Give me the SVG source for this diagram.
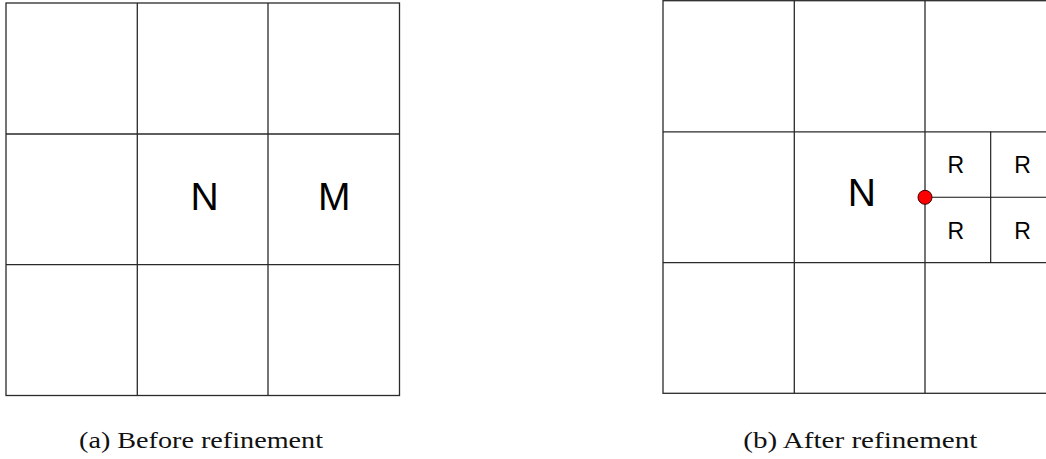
<svg xmlns="http://www.w3.org/2000/svg" width="1046" height="459" viewBox="0 0 1046 459">
  <style>
    .grid { fill: none; stroke: #2a2a2a; stroke-width: 1.3; }
    .sub { fill: none; stroke: #111; stroke-width: 1.1; }
    .lbl { font-family: "Liberation Sans", Arial, sans-serif; fill: #000; text-anchor: middle; }
    .big { font-size: 39px; }
    .small { font-size: 23px; }
    .cap { font-family: "Liberation Serif", "Times New Roman", serif; font-size: 24px; fill: #111; }
  </style>

  <!-- (a) 3x3 grid before refinement -->
  <g id="grid-a" class="grid">
    <rect x="6" y="3" width="393.5" height="392.5"/>
    <line x1="137.3" y1="3" x2="137.3" y2="395.5"/>
    <line x1="268" y1="3" x2="268" y2="395.5"/>
    <line x1="6" y1="134" x2="399.5" y2="134"/>
    <line x1="6" y1="264.7" x2="399.5" y2="264.7"/>
  </g>
  <g id="node-N-a"><text class="lbl big" x="204.5" y="209.5">N</text></g>
  <g id="node-M-a"><text class="lbl big" x="334.3" y="209.5">M</text></g>
  <g id="caption-a"><text class="cap" x="79" y="448" textLength="244" lengthAdjust="spacingAndGlyphs">(a) Before refinement</text></g>

  <!-- (b) grid after refinement; right column runs past the edge -->
  <g id="grid-b" class="grid">
    <rect x="663" y="0.7" width="393" height="392.6"/>
    <line x1="794.3" y1="0.7" x2="794.3" y2="393.3"/>
    <line x1="925" y1="0.7" x2="925" y2="393.3"/>
    <line x1="663" y1="131.8" x2="1056" y2="131.8"/>
    <line x1="663" y1="262.7" x2="1056" y2="262.7"/>
  </g>
  <g id="refined-cell" class="sub">
    <line x1="990.7" y1="131.8" x2="990.7" y2="262.7"/>
    <line x1="925" y1="197.3" x2="1056" y2="197.3"/>
  </g>
  <g id="node-N-b"><text class="lbl big" x="861.8" y="205.7">N</text></g>
  <g id="node-R">
    <text class="lbl small" x="955.8" y="173.3">R</text>
    <text class="lbl small" x="1022.5" y="173.3">R</text>
    <text class="lbl small" x="955.8" y="239">R</text>
    <text class="lbl small" x="1022.5" y="239">R</text>
  </g>
  <g id="hanging-node"><circle cx="925" cy="197.3" r="7" fill="#ff0000" stroke="#3a0000" stroke-width="1"/></g>
  <g id="caption-b"><text class="cap" x="743.3" y="448" textLength="234" lengthAdjust="spacingAndGlyphs">(b) After refinement</text></g>
</svg>
